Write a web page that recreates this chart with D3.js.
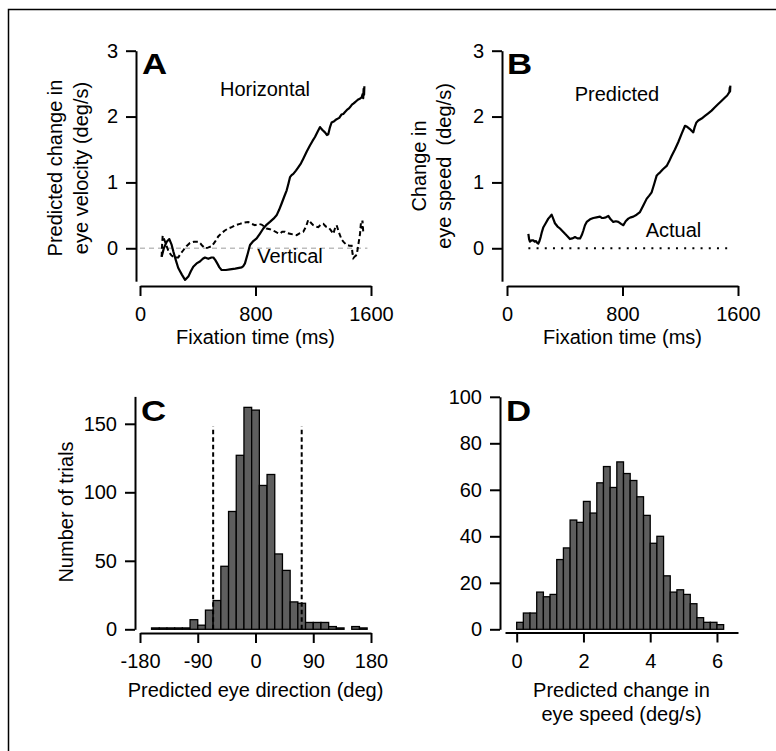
<!DOCTYPE html>
<html><head><meta charset="utf-8">
<script src="https://cdn.jsdelivr.net/npm/d3@7"></script>
<style>
body{margin:0;background:#fff}
svg{display:block}
text{font-family:"Liberation Sans",Arial,Helvetica,sans-serif;fill:#000}
</style>
</head><body>
<svg id="chart" width="776" height="751"></svg>
<script>
// ---------------- DATA ----------------
// Panel A : fixation time (ms) vs predicted change in eye velocity (deg/s)
const timeTicks = [0, 800, 1600];
const velTicks = [0, 1, 2, 3];
const horizT = [150,165,185,203,218,231,248,265,290,312,335,352,369,392,415,435,450,473,495,508,522,535,550,565,595,623,660,704,716,727,745,762,785,808,830,854,878,900,925,946,963,981,1000,1016,1028,1039,1050,1062,1080,1096,1115,1131,1155,1177,1195,1212,1230,1247,1262,1281,1295,1304,1316,1327,1345,1362,1380,1395,1408,1420,1433,1445,1454,1468,1480,1490,1501,1512,1522,1535,1542,1546,1549,1552,1554];
const horizV = [-0.13,0.0,0.10,0.14,0.06,-0.05,-0.18,-0.30,-0.40,-0.48,-0.43,-0.35,-0.28,-0.23,-0.20,-0.16,-0.14,-0.16,-0.14,-0.14,-0.18,-0.23,-0.29,-0.33,-0.33,-0.32,-0.31,-0.29,-0.27,-0.23,-0.09,0.05,0.11,0.15,0.22,0.30,0.36,0.40,0.45,0.50,0.58,0.68,0.79,0.88,0.98,1.08,1.11,1.13,1.18,1.23,1.29,1.36,1.47,1.56,1.63,1.69,1.77,1.84,1.80,1.76,1.72,1.73,1.84,1.91,1.93,1.96,1.98,2.03,2.04,2.07,2.10,2.12,2.14,2.18,2.20,2.22,2.24,2.26,2.27,2.29,2.34,2.28,2.42,2.33,2.46];
const vertT = [150,153,157,165,185,200,219,240,265,282,300,322,346,375,404,420,427,450,470,496,520,542,565,588,610,635,662,692,720,750,775,796,820,842,860,877,900,923,946,969,985,1004,1020,1039,1060,1085,1108,1131,1150,1165,1175,1187,1200,1218,1235,1252,1270,1287,1304,1320,1339,1350,1362,1378,1397,1413,1431,1450,1466,1472,1478,1490,1501,1512,1524,1530,1535,1541,1547];
const vertV = [-0.13,0.05,0.19,0.15,0.03,-0.06,-0.11,-0.14,-0.14,-0.08,-0.03,0.03,0.08,0.10,0.10,0.07,0.05,0.00,0.01,0.03,0.10,0.18,0.23,0.27,0.30,0.32,0.35,0.37,0.39,0.40,0.37,0.35,0.37,0.36,0.33,0.30,0.29,0.27,0.24,0.22,0.25,0.25,0.23,0.22,0.21,0.20,0.23,0.25,0.33,0.43,0.41,0.38,0.35,0.33,0.32,0.36,0.37,0.33,0.32,0.28,0.22,0.30,0.35,0.24,0.13,0.09,0.05,0.04,0.04,-0.08,-0.15,-0.12,-0.10,0.05,0.22,0.38,0.30,0.42,0.22];
const zeroRefT = [0, 1575];

// Panel B : predicted vs actual change in eye speed
const predT = [148,153,159,170,182,192,201,210,217,225,233,242,252,268,286,298,309,320,332,350,367,385,402,420,436,452,471,488,506,518,529,540,552,575,598,620,644,656,667,685,702,718,736,754,771,790,806,822,840,858,875,898,921,944,967,985,1002,1020,1036,1048,1059,1080,1106,1123,1140,1163,1186,1210,1233,1250,1267,1280,1290,1300,1312,1325,1348,1371,1394,1417,1440,1463,1487,1510,1525,1540,1543,1545,1547];
const predV = [0.22,0.14,0.10,0.12,0.12,0.10,0.11,0.08,0.07,0.11,0.17,0.25,0.32,0.38,0.45,0.48,0.51,0.45,0.38,0.33,0.30,0.26,0.22,0.18,0.14,0.15,0.17,0.15,0.15,0.20,0.27,0.35,0.40,0.44,0.46,0.47,0.48,0.46,0.46,0.47,0.49,0.44,0.40,0.41,0.40,0.37,0.35,0.41,0.45,0.47,0.48,0.51,0.55,0.65,0.75,0.80,0.85,0.98,1.10,1.13,1.15,1.20,1.25,1.32,1.40,1.50,1.61,1.74,1.86,1.84,1.81,1.78,1.76,1.84,1.91,1.94,1.97,2.01,2.05,2.09,2.14,2.19,2.24,2.29,2.32,2.37,2.44,2.38,2.47];
const actualT = [148, 1544];
const actualV = [0, 0];

// Panel C : predicted eye direction histogram (12 deg bins)
const dirCenters = [-180,-168,-156,-144,-132,-120,-108,-96,-84,-72,-60,-48,-36,-24,-12,0,12,24,36,48,60,72,84,96,108,120,132,144,156,168,180];
const dirCounts  = [0,0,1,1,1,1,1,7,3,14,21,46,86,127,162,160,105,113,55,43,20,19,5,5,5,2,1,0,2,1,0];
const dirBinWidth = 12;
const dirLimits = [-66, 72];
const dirTicks = [-180, -90, 0, 90, 180];
const countTicksC = [0, 50, 100, 150];

// Panel D : predicted change in eye speed histogram (0.2 deg/s bins)
const speedBinStarts = [0,0.2,0.4,0.6,0.8,1.0,1.2,1.4,1.6,1.8,2.0,2.2,2.4,2.6,2.8,3.0,3.2,3.4,3.6,3.8,4.0,4.2,4.4,4.6,4.8,5.0,5.2,5.4,5.6,5.8,6.0];
const speedCounts = [3,7,7,16,14,15,30,35,47,46,55,50,63,70,61,72,67,64,57,49,37,40,23,16,17,15,11,5,3,3,2];
const speedBinWidth = 0.2;
const speedTicks = [0, 2, 4, 6];
const countTicksD = [0, 20, 40, 60, 80, 100];

// ---------------- DRAWING ----------------
const svg = d3.select("#chart");
const FS = 20;
const fmt = d => String(d);   // plain hyphen-minus, as in the original

// outer frame
svg.append("path").attr("d","M8.5,751V9.5H776").attr("fill","none").attr("stroke","#000").attr("stroke-width",1.5);

function styleAxis(g){
  g.selectAll("path.domain, .tick line").attr("stroke","#000").attr("stroke-width",2);
  g.selectAll(".tick text").attr("font-size",FS).attr("fill","#000");
  g.attr("font-family",null);
}
function yAxis(scale, x, ticks){
  const g = svg.append("g").attr("transform",`translate(${x},0)`)
    .call(d3.axisLeft(scale).tickValues(ticks).tickSize(10).tickSizeOuter(0).tickPadding(8).tickFormat(fmt));
  styleAxis(g); return g;
}
function xAxis(scale, y, ticks){
  const g = svg.append("g").attr("transform",`translate(0,${y})`)
    .call(d3.axisBottom(scale).tickValues(ticks).tickSize(10).tickSizeOuter(0).tickPadding(11).tickFormat(fmt));
  styleAxis(g); return g;
}
function label(x, y, txt, opts={}){
  const t = svg.append("text").attr("x",x).attr("y",y).attr("font-size",opts.size||FS)
    .attr("text-anchor",opts.anchor||"middle").style("white-space","pre").text(txt);
  if(opts.bold) t.attr("font-weight","bold");
  if(opts.rotate) t.attr("transform",`rotate(-90,${x},${y})`);
  return t;
}
function panelLetter(x, y, txt){
  svg.append("text").attr("transform",`translate(${x},${y}) scale(1.2,1)`)
    .attr("font-size",29).attr("font-weight","bold").text(txt);
}
const zip = (a,b)=>a.map((v,i)=>[v,b[i]]);

// ----- Panel A -----
const xA = d3.scaleLinear().domain([0,1600]).range([140,371]);
const yA = d3.scaleLinear().domain([-0.5,3]).range([281.2,50.7]);
svg.append("path").datum(zip(zeroRefT,[0,0]))
  .attr("d", d3.line().x(d=>xA(d[0])).y(d=>yA(d[1])))
  .attr("stroke","#bdbdbd").attr("stroke-width",1.5).attr("stroke-dasharray","5,4").attr("fill","none");
svg.append("path").datum(zip(vertT,vertV))
  .attr("d", d3.line().x(d=>xA(d[0])).y(d=>yA(d[1])))
  .attr("stroke","#000").attr("stroke-width",2).attr("stroke-dasharray","5,3").attr("fill","none");
svg.append("path").datum(zip(horizT,horizV))
  .attr("d", d3.line().x(d=>xA(d[0])).y(d=>yA(d[1])))
  .attr("stroke","#000").attr("stroke-width",2.2).attr("fill","none").attr("stroke-linejoin","round");
yAxis(yA, 136, velTicks);
xAxis(xA, 286, timeTicks);
panelLetter(142, 74, "A");
label(265, 96, "Horizontal");
label(290, 263, "Vertical");
label(62, 168, "Predicted change in", {rotate:true});
label(87.5, 168, "eye velocity (deg/s)", {rotate:true});
label(255.5, 344, "Fixation time (ms)");

// ----- Panel B -----
const xB = d3.scaleLinear().domain([0,1600]).range([507,738]);
const yB = d3.scaleLinear().domain([-0.5,3]).range([281.2,50.7]);
svg.append("path").datum(zip(actualT,actualV))
  .attr("d", d3.line().x(d=>xB(d[0])).y(d=>yB(d[1])))
  .attr("stroke","#000").attr("stroke-width",2).attr("stroke-dasharray","2,6.2").attr("fill","none");
svg.append("path").datum(zip(predT,predV))
  .attr("d", d3.line().x(d=>xB(d[0])).y(d=>yB(d[1])))
  .attr("stroke","#000").attr("stroke-width",2.2).attr("fill","none").attr("stroke-linejoin","round");
yAxis(yB, 502, velTicks);
xAxis(xB, 286, timeTicks);
panelLetter(507, 74, "B");
label(617, 100.7, "Predicted");
label(673.5, 236.7, "Actual");
label(426, 166, "Change in", {rotate:true});
label(451, 166, "eye speed  (deg/s)", {rotate:true});
label(622.5, 344, "Fixation time (ms)");

// ----- Panel C -----
const xC = d3.scaleLinear().domain([-180,180]).range([140,371]);
const yC = d3.scaleLinear().domain([0,170]).range([629.3,396.4]);
svg.append("g").selectAll("rect").data(zip(dirCenters,dirCounts)).join("rect")
  .attr("x", d=>xC(Math.max(-180,d[0]-dirBinWidth/2)))
  .attr("width", d=>xC(Math.min(180,d[0]+dirBinWidth/2))-xC(Math.max(-180,d[0]-dirBinWidth/2)))
  .attr("y", d=>yC(d[1]))
  .attr("height", d=>yC(0)-yC(d[1]))
  .attr("fill","#5e5e5e").attr("stroke","#000").attr("stroke-width",1.3);
svg.append("g").selectAll("line").data(dirLimits).join("line")
  .attr("x1",d=>xC(d)).attr("x2",d=>xC(d)).attr("y1",yC(0)).attr("y2",yC(148))
  .attr("stroke","#000").attr("stroke-width",2).attr("stroke-dasharray","4.5,3");
yAxis(yC, 135, countTicksC);
xAxis(xC, 633, dirTicks);
panelLetter(141, 421, "C");
label(73, 512, "Number of trials", {rotate:true});
label(255.5, 697, "Predicted eye direction (deg)");

// ----- Panel D -----
const xD = d3.scaleLinear().domain([-0.35,6.63]).range([505,738]);
const yD = d3.scaleLinear().domain([0,100]).range([629.3,396.8]);
svg.append("g").selectAll("rect").data(zip(speedBinStarts,speedCounts)).join("rect")
  .attr("x", d=>xD(d[0]))
  .attr("width", d=>xD(d[0]+speedBinWidth)-xD(d[0]))
  .attr("y", d=>yD(d[1]))
  .attr("height", d=>yD(0)-yD(d[1]))
  .attr("fill","#5e5e5e").attr("stroke","#000").attr("stroke-width",1.3);
yAxis(yD, 500, countTicksD);
xAxis(xD, 632.5, speedTicks);
panelLetter(506, 421, "D");
label(621.5, 697, "Predicted change in");
label(621.5, 721, "eye speed (deg/s)");
</script>
</body></html>
